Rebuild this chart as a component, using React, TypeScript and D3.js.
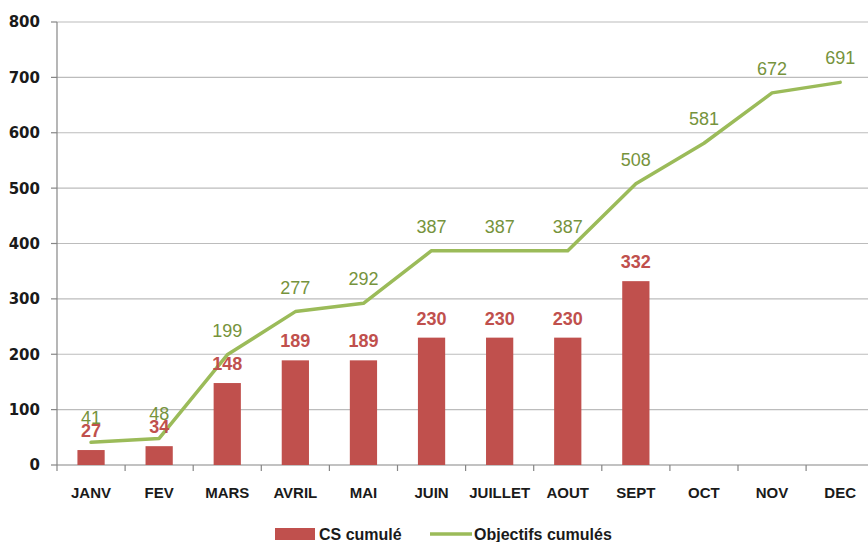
import * as d3 from 'd3';
import React, { ReactElement } from 'react';

const months = ['JANV', 'FEV', 'MARS', 'AVRIL', 'MAI', 'JUIN', 'JUILLET', 'AOUT', 'SEPT', 'OCT', 'NOV', 'DEC'];
const csCumule = [27, 34, 148, 189, 189, 230, 230, 230, 332];
const objectifsCumules = [41, 48, 199, 277, 292, 387, 387, 387, 508, 581, 672, 691];
const yTicks = [0, 100, 200, 300, 400, 500, 600, 700, 800];

const WIDTH = 868;
const HEIGHT = 542;
const LEFT = 57;
const STEP = 68.1;
const TOP = 22;
const BOTTOM = 465;

const RED = '#C0504D';
const GREEN = '#9BBB59';
const GREEN_TEXT = '#76933C';
const FONT = '"Liberation Sans", Arial, sans-serif';
const AXIS_FONT = '"DejaVu Sans", Verdana, sans-serif';

const App = (): ReactElement => {
  const x = d3
    .scaleBand<string>()
    .domain(months)
    .range([LEFT, LEFT + STEP * months.length])
    .padding(0);
  const y = d3.scaleLinear().domain([0, 800]).range([BOTTOM, TOP]);
  const cx = (m: string) => (x(m) as number) + x.bandwidth() / 2;
  const barW = x.bandwidth() * 0.4;

  const line = d3
    .line<number>()
    .x((_, i) => cx(months[i]))
    .y((d) => y(d));

  return (
    <svg width={WIDTH} height={HEIGHT} style={{ position: 'absolute', left: 0, top: 0, background: '#fff' }}>
      {/* grid + y axis */}
      {yTicks.map((t) => (
        <g key={t}>
          {t > 0 && (
            <line x1={LEFT} x2={WIDTH} y1={y(t)} y2={y(t)} stroke="#bcbcbc" strokeWidth={1.2} />
          )}
          <line x1={LEFT - 6} x2={LEFT} y1={y(t)} y2={y(t)} stroke="#868686" strokeWidth={1.2} />
          <text
            x={40}
            y={y(t)}
            dy="0.36em"
            textAnchor="end"
            fontFamily={AXIS_FONT}
            fontSize={15}
            fontWeight="bold"
            fill="#1a1a1a"
          >
            {t}
          </text>
        </g>
      ))}

      <line x1={LEFT} x2={LEFT} y1={TOP} y2={BOTTOM} stroke="#868686" strokeWidth={1.2} />
      <line x1={LEFT} x2={WIDTH} y1={BOTTOM} y2={BOTTOM} stroke="#868686" strokeWidth={1.2} />
      {months.map((m) => (
        <g key={m}>
          <line
            x1={x(m) as number}
            x2={x(m) as number}
            y1={BOTTOM}
            y2={BOTTOM + 6}
            stroke="#868686"
            strokeWidth={1.2}
          />
          <text
            x={cx(m)}
            y={498}
            textAnchor="middle"
            fontFamily={FONT}
            fontSize={15}
            fontWeight="bold"
            fill="#1a1a1a"
          >
            {m}
          </text>
        </g>
      ))}

      {/* bars */}
      {csCumule.map((v, i) => (
        <rect
          key={months[i]}
          x={cx(months[i]) - barW / 2}
          y={y(v)}
          width={barW}
          height={BOTTOM - y(v)}
          fill={RED}
        />
      ))}

      {/* line */}
      <path
        d={line(objectifsCumules) || ''}
        fill="none"
        stroke={GREEN}
        strokeWidth={3.5}
        strokeLinejoin="round"
        strokeLinecap="round"
      />

      {/* data labels */}
      {objectifsCumules.map((v, i) => (
        <text
          key={'o' + i}
          x={cx(months[i])}
          y={y(v) - 18}
          textAnchor="middle"
          fontFamily={FONT}
          fontSize={18}
          fill={GREEN_TEXT}
        >
          {v}
        </text>
      ))}
      {csCumule.map((v, i) => (
        <text
          key={'c' + i}
          x={cx(months[i])}
          y={y(v) - 13}
          textAnchor="middle"
          fontFamily={FONT}
          fontSize={18}
          fontWeight="bold"
          fill={RED}
        >
          {v}
        </text>
      ))}

      {/* legend */}
      <rect x={275} y={528} width={40} height={12} fill={RED} />
      <text x={319} y={540} fontFamily={FONT} fontSize={16} fontWeight="bold" fill="#1a1a1a">
        CS cumulé
      </text>
      <line x1={430} x2={472} y1={534} y2={534} stroke={GREEN} strokeWidth={3.5} />
      <text x={474} y={540} fontFamily={FONT} fontSize={16} fontWeight="bold" fill="#1a1a1a">
        Objectifs cumulés
      </text>
    </svg>
  );
};

export default App;
